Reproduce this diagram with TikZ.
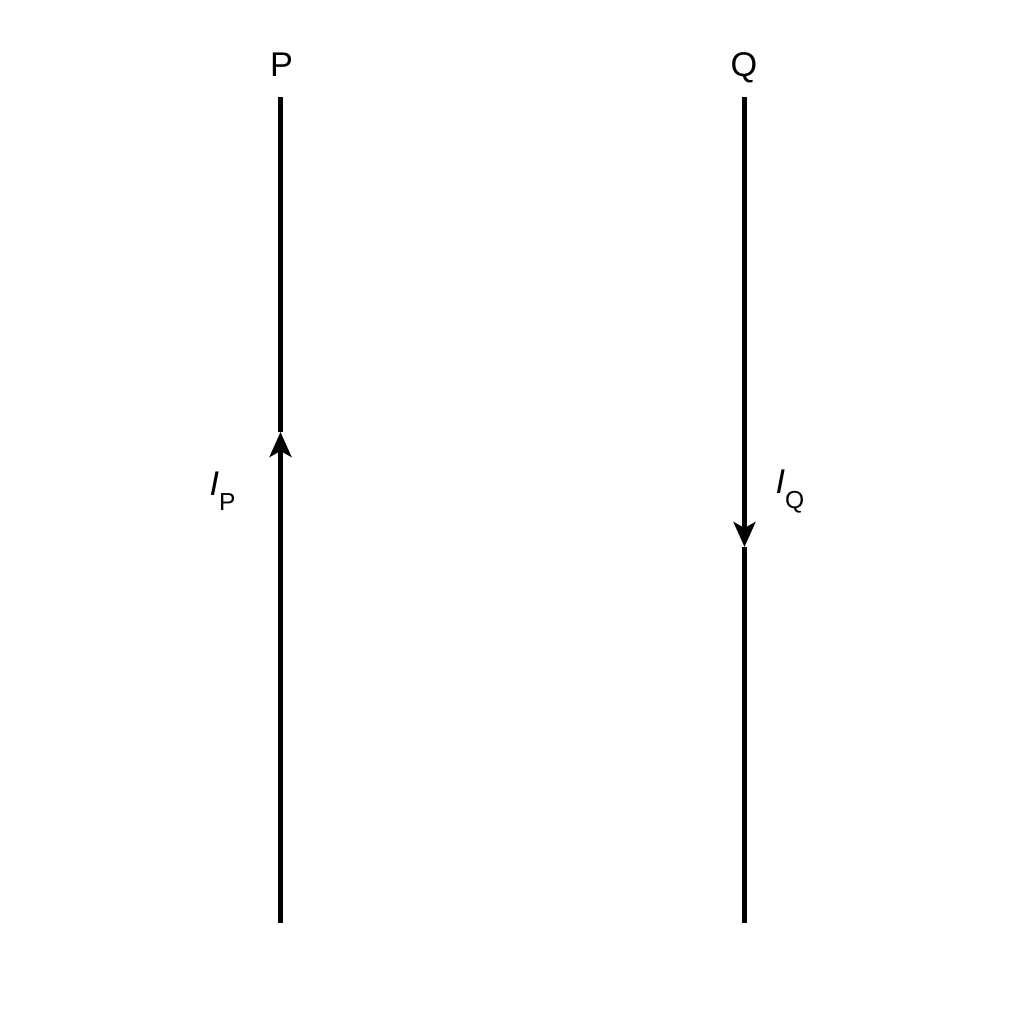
\documentclass[tikz,border=0pt]{standalone}
\usepackage{fontspec}
\setmainfont{Liberation Sans}
\usetikzlibrary{arrows.meta}

\tikzset{
    wire/.style={black, line width=2.3pt},
    flow/.style={wire, -{Stealth[length=0.5cm, width=0.44cm, inset=0.12cm]}},
    lbl/.style={inner sep=0pt, font=\fontsize{19.5}{22}\selectfont}
}
\newcommand{\curlbl}[1]{\textit{I}\raisebox{-8.5pt}{\fontsize{14}{16}\selectfont #1}}

\begin{document}
\begin{tikzpicture}
    \useasboundingbox (0,0) rectangle (20.48,20.48);
    % wire P, current upwards
    \coordinate (Ptop) at (5.61,18.54);
    \coordinate (Parr) at (5.61,11.84);
    \coordinate (Pbot) at (5.61,2.02);
    \draw [flow] (Pbot) -- (Parr);
    \draw [wire] (Parr) -- (Ptop);
    \node [lbl, anchor=base] (Plbl) at (5.63,18.94) {P};
    \node [lbl] (IPlbl) at (4.45,10.66) {\curlbl{P}};
    % wire Q, current downwards
    \coordinate (Qtop) at (14.89,18.54);
    \coordinate (Qarr) at (14.89,9.54);
    \coordinate (Qbot) at (14.89,2.02);
    \draw [flow] (Qtop) -- (Qarr);
    \draw [wire] (Qarr) -- (Qbot);
    \node [lbl, anchor=base] (Qlbl) at (14.88,18.94) {Q};
    \node [lbl] (IQlbl) at (15.8,10.64) {\curlbl{Q}};
\end{tikzpicture}
\end{document}
